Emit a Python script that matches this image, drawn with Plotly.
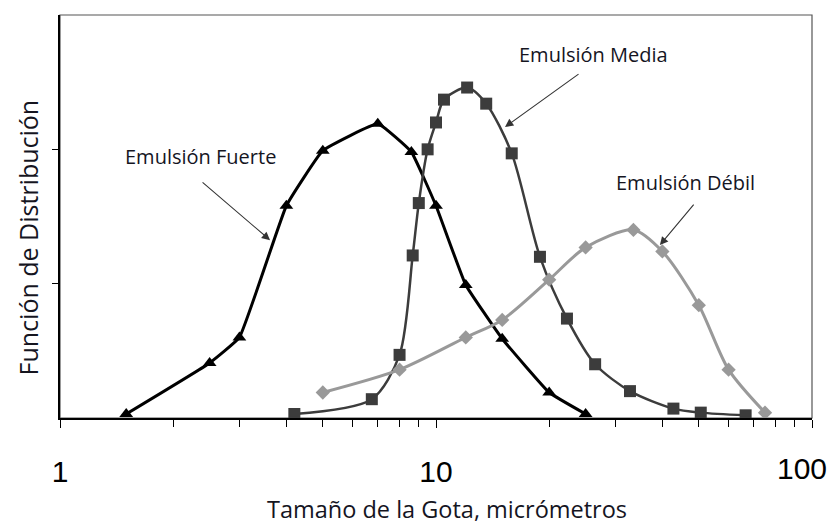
import math
import plotly.graph_objects as go

# ---- data ----
fuerte_x = [1.5, 2.5, 3.0, 4.0, 5.0, 7.0, 8.6, 10.0, 12.0, 15.0, 20.0, 25.0]
fuerte_y = [0.03, 0.41, 0.60, 1.58, 1.99, 2.19, 1.98, 1.58, 0.99, 0.59, 0.19, 0.03]

media_x = [4.2, 6.75, 8.0, 8.67, 9.0, 9.5, 10.0, 10.5, 12.1, 13.6, 15.9, 18.9, 22.3, 26.5, 32.8, 42.8, 50.6, 66.6]
media_y = [0.03, 0.14, 0.47, 1.21, 1.60, 2.00, 2.20, 2.37, 2.46, 2.34, 1.97, 1.20, 0.74, 0.40, 0.20, 0.07, 0.04, 0.02]

debil_x = [5.0, 8.0, 12.0, 15.0, 20.0, 25.0, 33.5, 40.0, 50.0, 60.0, 75.0]
debil_y = [0.19, 0.36, 0.60, 0.73, 1.03, 1.27, 1.40, 1.24, 0.84, 0.36, 0.04]

x_tickvals = [1, 10, 100]
x_ticktext = ["1", "10", ""]      # "100" is drawn as an annotation so it stays inside the page
x_last_label = "100"
x_minor = [2, 3, 4, 5, 6, 7, 8, 9, 20, 30, 40, 50, 60, 70, 80, 90]
y_tickvals = [1, 2]

x_title = "Tamaño de la Gota, micrómetros"
y_title = "Función de Distribución"
labels = ["Emulsión Fuerte", "Emulsión Media", "Emulsión Débil"]

TEXT = "#15151f"
FONT = "Open Sans"

fig = go.Figure()
fig.add_trace(go.Scatter(
    x=fuerte_x, y=fuerte_y, mode="lines+markers",
    line=dict(color="black", width=3, shape="spline", smoothing=0.3),
    marker=dict(symbol="triangle-up", size=12, color="black"),
    showlegend=False))
fig.add_trace(go.Scatter(
    x=media_x, y=media_y, mode="lines+markers",
    line=dict(color="#3c3c3c", width=2.5, shape="spline", smoothing=0.8),
    marker=dict(symbol="square", size=12, color="#3c3c3c"),
    showlegend=False))
fig.add_trace(go.Scatter(
    x=debil_x, y=debil_y, mode="lines+markers",
    line=dict(color="#999999", width=3, shape="spline", smoothing=0.8),
    marker=dict(symbol="diamond", size=11, color="#999999"),
    showlegend=False))

# border of the plot area
fig.add_shape(type="rect", xref="paper", yref="paper", x0=0, y0=0, x1=1, y1=1,
              line=dict(color="#555555", width=1.2), layer="below")

lg = math.log10
# labels
fig.add_annotation(x=lg(2.357), y=1.943, text=labels[0], showarrow=False,
                   font=dict(family=FONT, size=20, color=TEXT))
fig.add_annotation(x=lg(26.16), y=2.703, text=labels[1], showarrow=False,
                   font=dict(family=FONT, size=20, color=TEXT))
fig.add_annotation(x=lg(46.2), y=1.756, text=labels[2], showarrow=False,
                   font=dict(family=FONT, size=20, color=TEXT))
# arrows
arrow = dict(showarrow=True, arrowhead=2, arrowsize=1.5, arrowwidth=1.1,
             arrowcolor="#333333", text="", axref="pixel", ayref="pixel")
fig.add_annotation(x=lg(3.62), y=1.324, ax=-69, ay=-59, **arrow)
fig.add_annotation(x=lg(15.26), y=2.166, ax=75, ay=-54, **arrow)
fig.add_annotation(x=lg(39.4), y=1.287, ax=35, ay=-42, **arrow)

# last x tick label, kept inside the page like in the reference
fig.add_annotation(xref="paper", yref="paper", x=0.9867, y=-0.125,
                   xanchor="center", yanchor="middle", text=x_last_label,
                   showarrow=False, borderpad=0,
                   font=dict(family="Liberation Sans", size=30, color="black"))

# axis titles
fig.add_annotation(xref="paper", yref="paper", x=-0.042, y=0.449,
                   xanchor="center", yanchor="middle", textangle=-90,
                   text=y_title, showarrow=False,
                   font=dict(family=FONT, size=25, color=TEXT))
fig.add_annotation(xref="paper", yref="paper", x=0.5146, y=-0.226,
                   xanchor="center", yanchor="middle",
                   text=x_title, showarrow=False, borderpad=0,
                   font=dict(family=FONT, size=23.5, color=TEXT))

fig.update_layout(
    width=832, height=525,
    margin=dict(l=60, r=20, t=15, b=107, autoexpand=False),
    paper_bgcolor="white", plot_bgcolor="white",
    xaxis=dict(
        type="log", range=[0, 2],
        tickmode="array", tickvals=x_tickvals, ticktext=x_ticktext,
        ticks="outside", ticklen=8, tickwidth=1.2, tickcolor="black",
        ticklabelstandoff=18,
        tickfont=dict(family="Liberation Sans", size=30, color="black"),
        minor=dict(tickmode="array", tickvals=x_minor, ticks="outside",
                   ticklen=7, tickwidth=1.2, tickcolor="black", showgrid=False),
        showline=True, linecolor="black", linewidth=1.5,
        showgrid=False, zeroline=False,
    ),
    yaxis=dict(
        range=[0, 3], tickmode="array", tickvals=y_tickvals,
        showticklabels=False,
        ticks="outside", ticklen=6, tickwidth=1.2, tickcolor="black",
        showline=True, linecolor="black", linewidth=1.5,
        showgrid=False, zeroline=False,
    ),
)

fig.write_html("out.html")
